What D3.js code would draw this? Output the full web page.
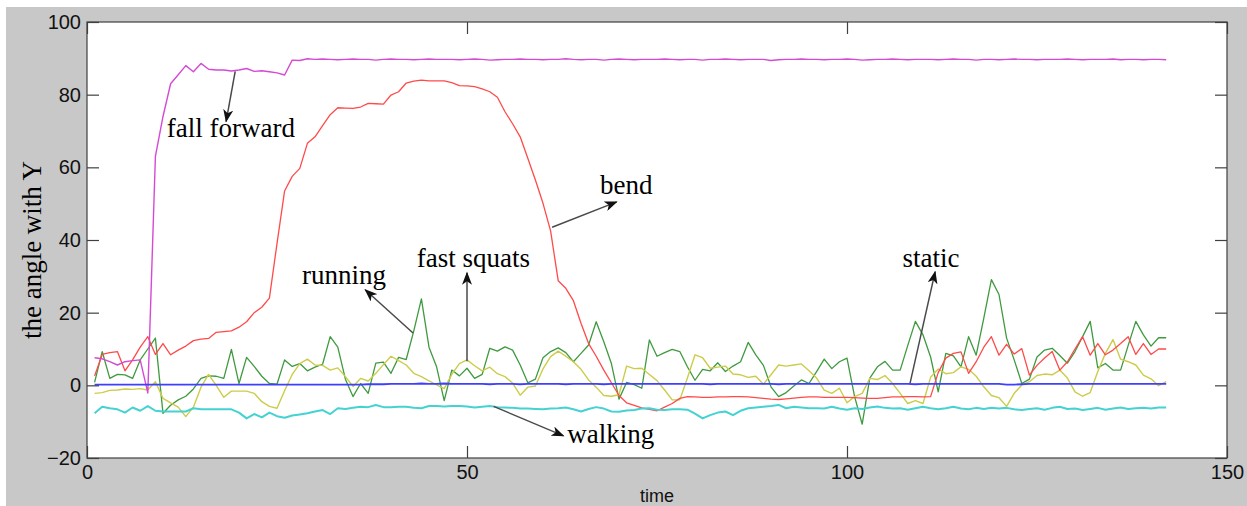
<!DOCTYPE html>
<html>
<head>
<meta charset="utf-8">
<script src="https://cdn.jsdelivr.net/npm/d3@7"></script>
<style>
  html, body { margin: 0; padding: 0; background: #ffffff; }
  svg { display: block; }
</style>
</head>
<body>
<svg id="chart" width="1247" height="506"></svg>
<script>
// Sample index (one reading per time step)
const timeSteps = d3.range(1, 143);

const xTicks = [0, 50, 100, 150];
const yTicks = [-20, 0, 20, 40, 60, 80, 100];

const fallForward = [
  7.6, 7.3, 6.5, 5.6, 6.5, 6.8, 7.0, -2.1, 63, 74,
  83, 85.5, 88, 86.3, 88.6, 87, 86.8, 86.8, 86.5, 86.8,
  87.2, 86.4, 86.6, 86.3, 86.0, 85.4, 89.5, 89.4, 89.9, 89.7,
  89.8, 89.7, 89.6, 89.7, 89.8, 89.7, 89.7, 89.5, 89.7, 89.8,
  89.7, 89.7, 89.6, 89.7, 89.8, 89.7, 89.7, 89.7, 89.6, 89.7,
  89.8, 89.7, 89.5, 89.6, 89.7, 89.7, 89.8, 89.7, 89.7, 89.6,
  89.7, 89.7, 89.9, 89.7, 89.6, 89.7, 89.7, 89.5, 89.7, 89.8,
  89.7, 89.6, 89.7, 89.7, 89.7, 89.8, 89.7, 89.6, 89.7, 89.7,
  89.5, 89.7, 89.7, 89.8, 89.7, 89.6, 89.7, 89.7, 89.7, 89.4,
  89.6, 89.7, 89.7, 89.8, 89.7, 89.7, 89.6, 89.7, 89.7, 89.8,
  89.7, 89.5, 89.6, 89.7, 89.7, 89.8, 89.7, 89.6, 89.7, 89.7,
  89.7, 89.6, 89.7, 89.8, 89.7, 89.7, 89.5, 89.7, 89.7, 89.6,
  89.7, 89.8, 89.7, 89.7, 89.6, 89.7, 89.7, 89.7, 89.8, 89.7,
  89.6, 89.7, 89.7, 89.7, 89.8, 89.6, 89.7, 89.7, 89.6, 89.7,
  89.7, 89.6
];

const bend = [
  2.6, 8.5, 9.0, 9.3, 4.0, 7.0, 10.5, 13.4, 8.5, 11.5,
  8.4, 9.7, 10.8, 12.3, 12.7, 12.9, 14.6, 14.8, 15.0, 16.0,
  17.5, 20.0, 21.5, 24.0, 39.0, 53.5, 57.5, 59.7, 66.6, 68.4,
  71.5, 74.5, 76.4, 76.3, 76.2, 76.6, 77.6, 77.5, 77.4, 79.9,
  80.8, 83.2, 83.7, 84.0, 83.8, 83.8, 83.8, 83.3, 82.5, 82.4,
  82.2, 81.6, 80.8, 79.3, 75.3, 72.0, 68.4, 62.5, 56.5, 50.1,
  42.5, 28.8, 26.7, 23.3, 17.1, 11.5, 8.0, 4.2, 0.7, -2.8,
  -4.8, -5.5, -6.2, -6.6, -7.0, -6.0, -5.0, -3.6, -3.1, -3.2,
  -3.3, -3.3, -3.2, -3.2, -3.1, -3.1, -3.2, -3.4, -3.6, -3.8,
  -3.9, -3.7, -3.5, -3.3, -3.2, -3.2, -3.3, -3.3, -3.3, -3.3,
  -3.4, -3.5, -3.6, -3.6, -3.4, -3.2, -3.2, -3.1, -3.1, -3.2,
  -3.1, 3.5, 7.5, 8.8, 9.2, 3.3, 6.5, 10.5, 13.4, 8.3,
  11.3, 8.6, 10.1, 2.8, 5.5, 7.5, 9.3, 4.2, 6.5, 10.0,
  13.4, 8.3, 11.5, 8.4, 9.7, 11.5, 13.4, 8.5, 11.5, 8.5,
  10.0, 10.0
];

const running = [
  0.8, 9.3, 1.9, 3.0, 2.9, 1.9, 7.0, 10.0, 13.0, -7.7,
  -5.5, -4.0, -3.0, -1.0, 1.9, 2.6, 2.5, 1.9, 9.9, 0.5,
  7.7, 5.2, 2.5, 0.5, 0.3, 7.0, 5.2, 6.0, 4.0, 5.0,
  5.8, 13.4, 10.5, 1.7, -3.1, 0.5, -2.2, 6.1, 6.4, 3.3,
  7.7, 7.1, 15.0, 23.8, 10.5, 5.1, -4.2, 4.2, 2.6, 4.7,
  1.9, 3.0, 10.2, 9.4, 10.6, 9.7, 5.6, 0.7, 1.7, 7.6,
  9.3, 10.3, 9.0, 6.5, 8.8, 11.1, 17.5, 12.0, 6.0, -3.8,
  0.8, 0.2, -0.8, 12.5, 8.0, 9.0, 9.9, 9.3, 5.1, 1.4,
  4.4, 4.0, 6.2, 3.8, 5.3, 6.5, 11.8, 8.4, 5.5, -0.4,
  -3.1, -2.0, -0.2, 1.5, 0.5, 3.8, 7.2, 4.6, 6.5, 7.5,
  -3.1, -10.7, 2.0, 5.1, 6.6, 4.2, 4.2, 11.0, 17.6, 13.9,
  7.8, -1.8, 8.8, 8.1, 5.1, 13.4, 8.3, 18.5, 29.1, 25.0,
  13.0, 7.0, 0.5, 1.7, 7.8, 9.7, 10.2, 8.2, 6.1, 9.3,
  13.4, 17.6, 4.8, 6.0, 4.2, 4.2, 11.0, 17.6, 13.9, 10.8,
  13.1, 13.1
];

const fastSquats = [
  -2.2, -2.0, -1.4, -1.3, -1.0, -1.1, -0.9, -1.3, 1.0, -3.6,
  -4.8, -6.0, -8.6, -6.0, -0.5, 3.0, 0.0, -3.3, -1.6, -1.6,
  -1.6, -2.2, -4.5, -5.8, -6.3, -1.5, 3.0, 6.0, 7.2, 5.6,
  5.5, 4.2, 4.8, 2.4, -0.3, 1.9, 1.2, 3.3, 5.7, 8.0,
  6.8, 5.6, 3.3, 2.4, 1.2, 0.1, -0.9, 3.0, 6.0, 7.0,
  5.4, 4.0, 5.0, 3.2, 2.4, 0.6, -2.7, -0.5, -0.2, 4.5,
  7.9, 9.4, 8.0, 6.5, 4.4, 1.5, -0.5, -2.8, -3.0, -2.6,
  5.3, 4.6, 4.7, 3.0, 1.3, -1.3, -4.0, -4.0, 2.0, 8.4,
  7.6, 4.7, 5.0, 5.3, 3.1, 2.9, 2.2, 2.5, 0.3, 2.9,
  5.6, 5.3, 5.6, 5.9, 4.0, 2.0, -1.3, -2.2, -0.8, -4.8,
  -3.1, -2.2, 1.9, 1.6, 2.7, 0.5, -2.2, -5.0, -4.2, -5.0,
  2.2, 4.5, 3.2, 3.5, 5.1, 4.4, 2.5, -0.4, -2.8, -3.4,
  -5.8, -2.2, 0.1, 1.0, 2.7, 3.1, 2.9, 4.2, 2.0, -1.8,
  -3.0, -2.0, 3.8, 8.8, 12.6, 7.2, 6.5, 5.6, 2.8, 1.8,
  -0.1, 1.0
];

const staticPose = [
  0.2, 0.2, 0.2, 0.2, 0.2, 0.2, 0.2, 0.2, 0.2, 0.2,
  0.2, 0.2, 0.2, 0.2, 0.2, 0.2, 0.2, 0.2, 0.2, 0.2,
  0.2, 0.2, 0.2, 0.2, 0.2, 0.2, 0.2, 0.2, 0.2, 0.2,
  0.2, 0.2, 0.2, 0.2, 0.2, 0.2, 0.3, 0.3, 0.3, 0.4,
  0.4, 0.4, 0.4, 0.5, 0.4, 0.4, 0.5, 0.4, 0.4, 0.4,
  0.4, 0.4, 0.3, 0.4, 0.4, 0.4, 0.3, 0.4, 0.4, 0.4,
  0.4, 0.4, 0.3, 0.4, 0.4, 0.4, 0.4, 0.3, 0.4, 0.4,
  0.4, 0.4, 0.4, 0.4, 0.4, 0.4, 0.4, 0.4, 0.4, 0.4,
  0.4, 0.3, 0.4, 0.4, 0.4, 0.4, 0.4, 0.4, 0.4, 0.4,
  0.3, 0.4, 0.4, 0.4, 0.4, 0.4, 0.4, 0.4, 0.4, 0.4,
  0.4, 0.4, 0.4, 0.4, 0.4, 0.4, 0.4, 0.4, 0.3, 0.4,
  0.4, 0.4, 0.4, 0.4, 0.4, 0.4, 0.4, 0.4, 0.4, 0.4,
  0.2, 0.2, 0.3, 0.4, 0.4, 0.4, 0.4, 0.4, 0.4, 0.4,
  0.4, 0.4, 0.4, 0.4, 0.4, 0.4, 0.4, 0.4, 0.4, 0.4,
  0.4, 0.4
];

const walking = [
  -7.7, -5.9, -6.3, -6.6, -7.5, -6.1, -7.0, -5.7, -7.0, -7.2,
  -7.2, -7.2, -7.2, -6.3, -6.6, -6.6, -6.6, -6.6, -6.6, -7.5,
  -9.1, -7.9, -8.8, -7.5, -8.5, -8.9, -8.3, -8.0, -7.7, -7.2,
  -6.8, -7.9, -6.3, -6.5, -6.2, -5.9, -6.0, -5.4, -6.0, -6.0,
  -5.9, -5.9, -6.2, -6.3, -5.7, -5.7, -5.8, -5.7, -5.7, -5.8,
  -6.1, -5.9, -5.7, -6.0, -6.1, -6.2, -6.4, -6.4, -6.5, -6.6,
  -6.4, -6.3, -6.1, -6.6, -7.2, -6.5, -6.0, -6.4, -7.2, -7.3,
  -6.9, -6.8, -6.4, -6.3, -6.7, -6.8, -6.6, -6.6, -6.7, -7.8,
  -9.1, -8.2, -7.5, -7.2, -8.2, -7.0, -6.3, -6.1, -5.9, -5.7,
  -5.4, -6.3, -5.9, -6.1, -6.3, -6.3, -6.4, -5.9, -6.4, -6.7,
  -6.3, -6.5, -6.1, -5.8, -6.2, -6.4, -6.3, -6.7, -6.3, -5.9,
  -6.3, -6.6, -6.3, -5.9, -6.4, -6.6, -6.2, -6.5, -6.2, -6.4,
  -6.2, -6.6, -6.8, -6.5, -6.3, -6.7, -6.2, -5.9, -6.5, -6.4,
  -6.8, -6.5, -6.2, -6.7, -6.4, -6.1, -6.5, -6.3, -6.2, -6.4,
  -6.1, -6.1
];

// Line styles per activity
const series = [
  { name: "running",      values: running,     color: "#3f9a3f", width: 1.3 },
  { name: "fast squats",  values: fastSquats,  color: "#cccc4a", width: 1.4 },
  { name: "bend",         values: bend,        color: "#ff4a4a", width: 1.3 },
  { name: "fall forward", values: fallForward, color: "#d54ad5", width: 1.4 },
  { name: "static",       values: staticPose,  color: "#3f3fff", width: 1.8 },
  { name: "walking",      values: walking,     color: "#45d2d2", width: 2.0 }
];

// Callouts: label position and arrow, in data units [time, angle]
const callouts = [
  { label: "fall forward", text: [10.5, 68.4],  from: [19.5, 86.4], to: [18.3, 72.6] },
  { label: "bend",         text: [67.5, 52.6],  from: [61.2, 43.5], to: [69.7, 50.5] },
  { label: "running",      text: [28.3, 27.8],  from: [42.9, 14.4], to: [36.6, 26.3] },
  { label: "fast squats",  text: [43.4, 32.6],  from: [50.0, 6.6],  to: [50.0, 31.0] },
  { label: "walking",      text: [63.2, -15.8], from: [53.5, -5.8], to: [62.7, -13.9] },
  { label: "static",       text: [107.3, 32.6], from: [108.3, 0.6], to: [111.6, 31.3] }
];

const W = 1247, H = 506;
const plot = { left: 87, top: 22, right: 1227, bottom: 458 };

const svg = d3.select("#chart");

// Figure background
svg.append("rect")
  .attr("x", 6).attr("y", 7)
  .attr("width", W - 6).attr("height", H - 7)
  .attr("fill", "#c8c8c8");

// Axes area
svg.append("rect")
  .attr("x", plot.left).attr("y", plot.top)
  .attr("width", plot.right - plot.left).attr("height", plot.bottom - plot.top)
  .attr("fill", "#ffffff");

const x = d3.scaleLinear().domain([0, 150]).range([plot.left, plot.right]);
const y = d3.scaleLinear().domain([-20, 100]).range([plot.bottom, plot.top]);

const defs = svg.append("defs");
defs.append("clipPath").attr("id", "plot-clip")
  .append("rect")
  .attr("x", plot.left).attr("y", plot.top)
  .attr("width", plot.right - plot.left).attr("height", plot.bottom - plot.top);

const marker = defs.append("marker")
  .attr("id", "arrowhead")
  .attr("markerUnits", "userSpaceOnUse")
  .attr("markerWidth", 14).attr("markerHeight", 10)
  .attr("refX", 12).attr("refY", 5)
  .attr("orient", "auto");
marker.append("path")
  .attr("d", "M0,0 L13,5 L0,10 L3.5,5 Z")
  .attr("fill", "#111");

// Data lines
const line = d3.line()
  .x((d, i) => x(timeSteps[i]))
  .y(d => y(d));

const linesG = svg.append("g").attr("clip-path", "url(#plot-clip)");
linesG.selectAll("path")
  .data(series)
  .join("path")
  .attr("d", d => line(d.values))
  .attr("fill", "none")
  .attr("stroke", d => d.color)
  .attr("stroke-width", d => d.width)
  .attr("stroke-linejoin", "round");

// Axes with inward ticks on all four sides
const tickStyle = g => {
  g.select(".domain").remove();
  g.selectAll(".tick line").attr("stroke", "#404040").attr("stroke-width", 1.2);
  g.selectAll(".tick text")
    .attr("fill", "#111")
    .style("font-family", "'Liberation Sans', Arial, sans-serif")
    .style("font-size", "20px");
};

svg.append("g")
  .attr("transform", `translate(0,${plot.bottom})`)
  .call(d3.axisBottom(x).tickValues(xTicks).tickSize(-12).tickPadding(7).tickFormat(d3.format("d")))
  .call(tickStyle);

svg.append("g")
  .attr("transform", `translate(0,${plot.top})`)
  .call(d3.axisTop(x).tickValues(xTicks).tickSize(-12).tickFormat(""))
  .call(tickStyle);

svg.append("g")
  .attr("transform", `translate(${plot.left},0)`)
  .call(d3.axisLeft(y).tickValues(yTicks).tickSize(-12).tickPadding(6).tickFormat(d3.format("d")))
  .call(tickStyle);

svg.append("g")
  .attr("transform", `translate(${plot.right},0)`)
  .call(d3.axisRight(y).tickValues(yTicks).tickSize(-12).tickFormat(""))
  .call(tickStyle);

// Box
svg.append("rect")
  .attr("x", plot.left).attr("y", plot.top)
  .attr("width", plot.right - plot.left).attr("height", plot.bottom - plot.top)
  .attr("fill", "none")
  .attr("stroke", "#404040")
  .attr("stroke-width", 1.2);

// Axis titles
svg.append("text")
  .attr("x", (plot.left + plot.right) / 2)
  .attr("y", 502)
  .attr("text-anchor", "middle")
  .attr("fill", "#111")
  .style("font-family", "'Liberation Sans', Arial, sans-serif")
  .style("font-size", "18px")
  .text("time");

svg.append("text")
  .attr("transform", `translate(41,${(plot.top + plot.bottom) / 2 + 10}) rotate(-90)`)
  .attr("text-anchor", "middle")
  .attr("fill", "#000")
  .style("font-family", "'Liberation Serif', 'Times New Roman', serif")
  .style("font-size", "27px")
  .text("the angle with Y");

// Callout arrows and labels
const notes = svg.append("g");
notes.selectAll("line")
  .data(callouts)
  .join("line")
  .attr("x1", d => x(d.from[0])).attr("y1", d => y(d.from[1]))
  .attr("x2", d => x(d.to[0])).attr("y2", d => y(d.to[1]))
  .attr("stroke", "#4a4a4a")
  .attr("stroke-width", 1.5)
  .attr("marker-end", "url(#arrowhead)");

notes.selectAll("text")
  .data(callouts)
  .join("text")
  .attr("x", d => x(d.text[0])).attr("y", d => y(d.text[1]))
  .attr("fill", "#000")
  .style("font-family", "'Liberation Serif', 'Times New Roman', serif")
  .style("font-size", "27px")
  .text(d => d.label);
</script>
</body>
</html>
